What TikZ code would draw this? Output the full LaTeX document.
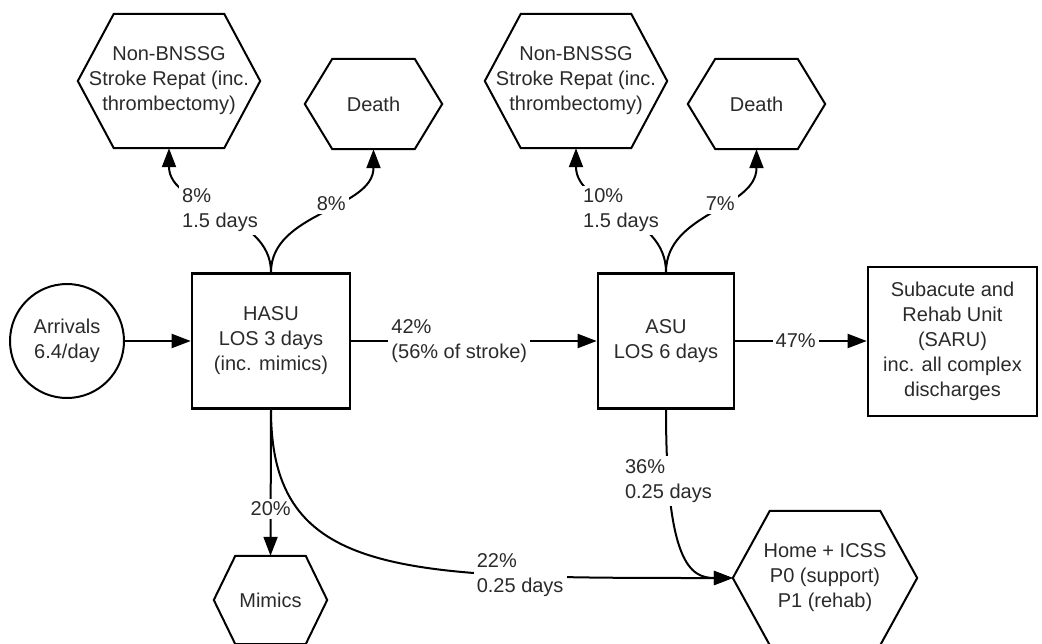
\documentclass[tikz,border=0pt]{standalone}
\usepackage{fontspec}
\setmainfont{Liberation Sans}
\usetikzlibrary{arrows.meta,calc}
\definecolor{ink}{HTML}{2A2A2A}

% hexagon: name, x, y, width, height, corner inset, text
\newcommand{\hexat}[7]{%
  \node[hexbox, minimum width=#4pt, minimum height=#5pt] (#1) at (#2,#3) {#7};
  \draw[hexline] ([xshift=#6pt]#1.north west) -- ([xshift=-#6pt]#1.north east)
    -- (#1.east) -- ([xshift=-#6pt]#1.south east) -- ([xshift=#6pt]#1.south west)
    -- (#1.west) -- cycle;}

\begin{document}
\begin{tikzpicture}[x=1pt,y=-1pt,
  font=\fontsize{20}{25}\selectfont,
  every node/.style={text=ink, align=center, inner sep=0pt},
  unitbox/.style={rectangle, draw=black, line width=2.6pt},
  source/.style={circle, draw=black, line width=2pt, minimum size=114pt},
  hexbox/.style={rectangle, draw=none},
  hexline/.style={draw=black, line width=2pt, line join=miter},
  conn/.style={draw=black, line width=2pt, -{Triangle[length=19pt,width=14pt]}},
  lbl/.style={fill=white, inner sep=3pt, align=left}]

\useasboundingbox (0,0) rectangle (1042,643);

% units
\node[source] (arr) at (67,341) {Arrivals\\6.4/day};
\node[unitbox, minimum width=158pt, minimum height=135pt] (hasu) at (271,341)
  {HASU\\LOS 3 days\\(inc. mimics)};
\node[unitbox, minimum width=136pt, minimum height=135pt] (asu) at (666,341)
  {ASU\\LOS 6 days};
\node[unitbox, minimum width=169pt, minimum height=149pt] (saru) at (952.5,341.5)
  {Subacute and\\Rehab Unit\\(SARU)\\inc. all complex\\discharges};

% destinations
\hexat{nbA}{169}{81}{182}{134}{36}{Non-BNSSG\\Stroke Repat (inc.\\thrombectomy)}
\hexat{deathA}{373.5}{104}{137}{90}{27.5}{Death}
\hexat{nbB}{576}{81}{182}{134}{36}{Non-BNSSG\\Stroke Repat (inc.\\thrombectomy)}
\hexat{deathB}{756.5}{104}{137}{90}{27.5}{Death}
\hexat{home}{825}{578}{184}{134}{37}{Home + ICSS\\P0 (support)\\P1 (rehab)}
\hexat{mim}{270.5}{600}{113}{88}{21.5}{Mimics}

% main flow
\draw[conn] (arr.east) -- (hasu.west);
\draw[conn] (hasu.east) -- (asu.west)
  node[lbl, pos=0.44] {42\%\\(56\% of stroke)};
\draw[conn] (asu.east) -- (asu.east -| saru.west)
  node[lbl, pos=0.46] {47\%};

% outflows from HASU
\draw[conn] (hasu.north) .. controls +(0,-60) and +(0,60) .. (nbA.south)
  node[lbl, pos=0.5] {8\%\\1.5 days};
\draw[conn] (hasu.north) .. controls +(0,-60) and +(0,60) .. (deathA.south)
  node[lbl, pos=0.5, xshift=9pt, yshift=7pt] {8\%};
\draw[conn] (hasu.south) -- (mim.north)
  node[lbl, pos=0.68] {20\%};
\draw[conn] (hasu.south) .. controls (hasu.south |- home.west) and +(-333,0) .. (home.west)
  node[lbl, pos=0.75] {22\%\\0.25 days};

% outflows from ASU
\draw[conn] (asu.north) .. controls +(0,-60) and +(0,60) .. (nbB.south)
  node[lbl, pos=0.5] {10\%\\1.5 days};
\draw[conn] (asu.north) .. controls +(0,-60) and +(0,60) .. (deathB.south)
  node[lbl, pos=0.5, xshift=9pt, yshift=7pt] {7\%};
\draw[conn] (asu.south) .. controls +(0,152) and +(-43,0) .. (home.west)
  node[lbl, pos=0.185] {36\%\\0.25 days};

\end{tikzpicture}
\end{document}
